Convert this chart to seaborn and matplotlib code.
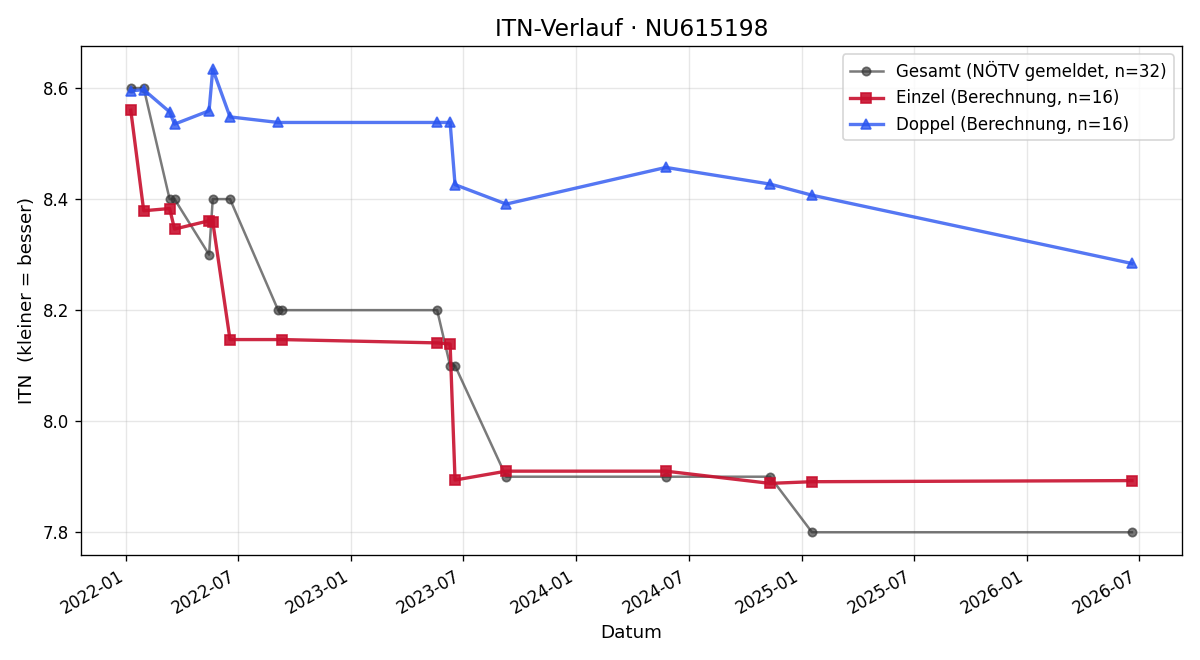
import matplotlib
matplotlib.use("Agg")
import matplotlib.pyplot as plt
import matplotlib.dates as mdates
import seaborn as sns
import pandas as pd

# Gesamt (NÖTV gemeldet)
gesamt_dates = ["2022-01-08", "2022-01-29", "2022-03-12", "2022-03-20", "2022-05-15",
                "2022-05-21", "2022-06-18", "2022-09-04", "2022-09-10", "2023-05-20",
                "2023-06-10", "2023-06-18", "2023-09-09", "2024-05-25", "2024-11-10",
                "2025-01-17", "2026-06-20"]
gesamt_vals = [8.6, 8.6, 8.4, 8.4, 8.3, 8.4, 8.4, 8.2, 8.2, 8.2, 8.1, 8.1, 7.9, 7.9, 7.9, 7.8, 7.8]

# Einzel (Berechnung)
einzel_dates = ["2022-01-08", "2022-01-29", "2022-03-12", "2022-03-20", "2022-05-15",
                "2022-05-21", "2022-06-18", "2022-09-10", "2023-05-20", "2023-06-10",
                "2023-06-18", "2023-09-09", "2024-05-25", "2024-11-10", "2025-01-17",
                "2026-06-20"]
einzel_vals = [8.560, 8.379, 8.383, 8.346, 8.361, 8.359, 8.147, 8.147, 8.141, 8.139,
               7.894, 7.910, 7.910, 7.888, 7.891, 7.893]

# Doppel (Berechnung)
doppel_dates = ["2022-01-08", "2022-01-29", "2022-03-12", "2022-03-20", "2022-05-15",
                "2022-05-21", "2022-06-18", "2022-09-04", "2023-05-20", "2023-06-10",
                "2023-06-18", "2023-09-09", "2024-05-25", "2024-11-10", "2025-01-17",
                "2026-06-20"]
doppel_vals = [8.595, 8.597, 8.557, 8.535, 8.559, 8.634, 8.548, 8.538, 8.538, 8.538,
               8.426, 8.391, 8.457, 8.427, 8.407, 8.284]

title = "ITN-Verlauf · NU615198"

fig, ax = plt.subplots(figsize=(10, 5.5), dpi=120)

series = [
    (gesamt_dates, gesamt_vals, "#333333", 0.65, "o", 5, 1.5, "Gesamt (NÖTV gemeldet, n=32)"),
    (einzel_dates, einzel_vals, "#c8102e", 0.9, "s", 6, 2.0, "Einzel (Berechnung, n=16)"),
    (doppel_dates, doppel_vals, "#2a55f0", 0.8, "^", 6, 2.0, "Doppel (Berechnung, n=16)"),
]
for d, v, c, a, m, ms, lw, lab in series:
    sns.lineplot(x=pd.to_datetime(d), y=v, ax=ax, color=c, alpha=a, marker=m,
                 markersize=ms, linewidth=lw, markeredgecolor=c, markeredgewidth=1,
                 estimator=None, sort=False, label=lab)

ax.set_title(title, fontsize=14)
ax.set_xlabel("Datum", fontsize=11)
ax.set_ylabel("ITN  (kleiner = besser)", fontsize=11)
ax.grid(True, alpha=0.3)
ax.xaxis.set_major_locator(mdates.MonthLocator(bymonth=[1, 7]))
ax.xaxis.set_major_formatter(mdates.DateFormatter("%Y-%m"))
ax.legend(loc="upper right", fontsize=10)
fig.autofmt_xdate()
fig.tight_layout()
fig.savefig("out.png", dpi=120)
